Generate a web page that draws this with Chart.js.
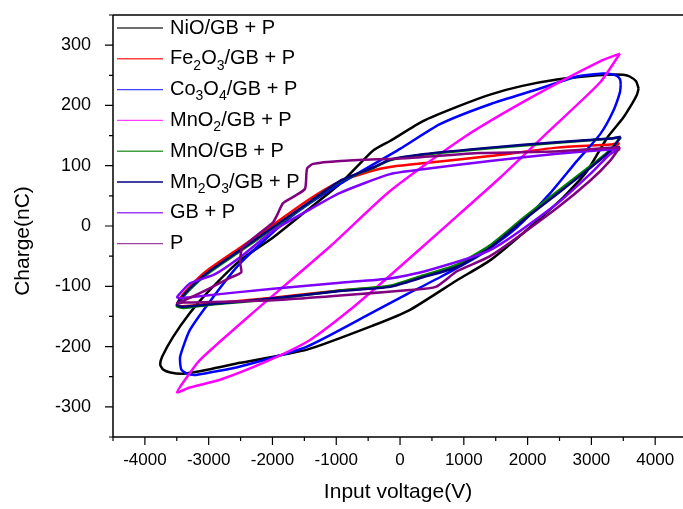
<!DOCTYPE html>
<html>
<head>
<meta charset="utf-8">
<script src="https://cdn.jsdelivr.net/npm/chart.js@4.4.1/dist/chart.umd.min.js"></script>
<style>
  html, body { margin: 0; padding: 0; background: #fff; }
  #wrap { width: 683px; height: 509px; }
</style>
</head>
<body>
<div id="wrap"><canvas id="loops" width="683" height="509"></canvas></div>
<script>
// ========================== DATA ==========================
const seriesNames = ["NiO/GB + P", "Fe2O3/GB + P", "Co3O4/GB + P", "MnO2/GB + P", "MnO/GB + P", "Mn2O3/GB + P", "GB + P", "P"];
const seriesColors = ["#000000", "#ff0000", "#0000ff", "#ff00ff", "#008000", "#000080", "#8000ff", "#800080"];

// tick positions (majors get a label)
const xTickValues = [-4500, -4000, -3500, -3000, -2500, -2000, -1500, -1000, -500, 0, 500, 1000, 1500, 2000, 2500, 3000, 3500, 4000];
const xTicksMajor = [-4000, -3000, -2000, -1000, 0, 1000, 2000, 3000, 4000];
const yTickValues = [-350, -300, -250, -200, -150, -100, -50, 0, 50, 100, 150, 200, 250, 300, 350];
const yTicksMajor = [-300, -200, -100, 0, 100, 200, 300];

// NiO/GB + P
const nioV = [3740, 3700, 3600, 3495, 3100, 2461, 1900, 1411, 900, 360, -157, -423, -940, -1458, -1990, -2508, -3025, -3292, -3558, -3730, -3760, -3715, -3600, -3401, -3000, -2508, -1458, -423, 157, 893, 1411, 1928, 2555, 2931, 3245, 3495, 3650, 3715, 3740];
const nioQ = [228, 240, 248, 251, 250, 243, 232, 218, 198, 174, 141, 125, 70, 26, -19, -57, -111, -144, -184, -217, -230, -238, -243, -245, -238, -227, -205, -165, -139, -90, -57, -12, 47, 91, 146, 179, 205, 218, 228];

// Fe2O3/GB + P
const feV = [3440, 3300, 2461, 1411, 360, -157, -423, -940, -1458, -1990, -2508, -3025, -3292, -3450, -3495, -3400, -3000, -1990, -940, -157, 360, 893, 1411, 1928, 2461, 2978, 3291, 3440];
const feQ = [138, 135, 130, 116, 104, 98, 92, 74, 42, 2, -36, -74, -100, -120, -131, -133, -129, -119, -107, -100, -84, -66, -34, 11, 55, 97, 123, 138];

// Co3O4/GB + P
const coV = [3460, 3450, 3400, 3300, 3182, 2774, 2194, 1411, 627, 0, -940, -1724, -2508, -2931, -3292, -3448, -3430, -3340, -3200, -2508, -1458, -423, -157, 110, 627, 1301, 1834, 2351, 2774, 3135, 3339, 3448, 3460];
const coQ = [235, 243, 249, 252, 253, 248, 228, 202, 169, 128, 70, 14, -62, -118, -172, -217, -238, -245, -247, -233, -200, -143, -128, -113, -85, -45, -2, 54, 108, 152, 190, 222, 235];

// MnO2/GB + P
const mno2V = [3448, 3135, 2038, 987, -157, -1097, -2351, -3135, -3370, -3495, -3300, -2821, -2038, -1411, -784, -157, 784, 1567, 2351, 3135, 3448];
const mno2Q = [286, 273, 212, 146, 58, -34, -148, -222, -255, -276, -268, -255, -222, -189, -139, -82, 6, 80, 159, 238, 286];

// MnO/GB + P
const mnoV = [3460, 3300, 2461, 1411, 360, -157, -423, -940, -1458, -1990, -2508, -3025, -3292, -3450, -3500, -3400, -3000, -1990, -940, -157, 360, 893, 1411, 1928, 2461, 2978, 3291, 3460];
const mnoQ = [147, 145, 138, 129, 118, 109, 96, 74, 36, -4, -42, -80, -105, -124, -133, -136, -131, -121, -107, -99, -82, -64, -32, 13, 57, 99, 126, 147];

// Mn2O3/GB + P
const mn2V = [3460, 3300, 2461, 1411, 360, -157, -423, -940, -1458, -1990, -2508, -3025, -3292, -3450, -3500, -3400, -3000, -1990, -940, -157, 360, 893, 1411, 1928, 2461, 2978, 3291, 3460];
const mn2Q = [148, 145, 139, 130, 119, 110, 97, 75, 37, -2, -40, -78, -103, -122, -131, -134, -130, -120, -108, -101, -85, -68, -36, 9, 53, 96, 124, 148];

// GB + P
const gbV = [3450, 3291, 2461, 1411, 360, -157, -940, -1458, -1990, -2508, -2900, -3292, -3450, -3495, -3450, -3292, -1990, -940, -157, 360, 1411, 2461, 2978, 3291, 3450];
const gbQ = [128, 127, 120, 108, 94, 86, 55, 25, -8, -52, -80, -95, -112, -118, -120, -118, -104, -94, -87, -76, -40, 37, 86, 119, 128];

// P
const pV = [3448, 2508, 1254, 157, -940, -1364, -1458, -1489, -1646, -1834, -1928, -1991, -2194, -2398, -2476, -2508, -2490, -2665, -2978, -3292, -3495, -3400, -1991, 157, 560, 893, 1411, 2461, 2978, 3291, 3448];
const pQ = [131, 124, 121, 113, 108, 103, 95, 62, 50, 38, 18, 6, -11, -29, -37, -60, -77, -86, -103, -119, -128, -127, -123, -106, -101, -75, -50, 30, 75, 108, 131];

const seriesV = [nioV, feV, coV, mno2V, mnoV, mn2V, gbV, pV];
const seriesQ = [nioQ, feQ, coQ, mno2Q, mnoQ, mn2Q, gbQ, pQ];

// ========================== HELPERS ==========================
function toPoints(vs, qs){
  return vs.map((v, i) => ({ x: v, y: qs[i] }));
}

// draws "Fe2O3/GB + P" with the digits as subscripts
function drawRich(ctx, label, x, y){
  const parts = label.split(/(\d+)/);
  parts.forEach(p => {
    if(!p) return;
    const sub = /^\d+$/.test(p);
    ctx.font = sub ? "14px 'Liberation Sans', Arial, sans-serif" : "20px 'Liberation Sans', Arial, sans-serif";
    ctx.fillText(p, x, sub ? y + 7 : y);
    x += ctx.measureText(p).width;
  });
}

// ========================== FRAME / LEGEND PLUGIN ==========================
const framePlugin = {
  id: "frame",
  afterDatasetsDraw(chart){
    const ctx = chart.ctx;
    const a = chart.chartArea;
    const xs = chart.scales.x;
    const ys = chart.scales.y;
    ctx.save();
    ctx.strokeStyle = "#000";
    ctx.lineWidth = 1.5;
    ctx.beginPath();
    ctx.moveTo(a.left, a.top); ctx.lineTo(a.right, a.top);
    ctx.moveTo(a.left, a.top); ctx.lineTo(a.left, a.bottom);
    ctx.moveTo(a.left, a.bottom); ctx.lineTo(a.right, a.bottom);
    ctx.stroke();

    // ticks, outward, long on majors
    ctx.lineWidth = 1.2;
    ctx.beginPath();
    xTickValues.forEach(v => {
      const px = xs.getPixelForValue(v);
      const len = xTicksMajor.includes(v) ? 8 : 4;
      ctx.moveTo(px, a.bottom); ctx.lineTo(px, a.bottom + len);
    });
    yTickValues.forEach(v => {
      const py = ys.getPixelForValue(v);
      const len = yTicksMajor.includes(v) ? 8 : 4;
      ctx.moveTo(a.left, py); ctx.lineTo(a.left - len, py);
    });
    ctx.stroke();

    // y title
    ctx.fillStyle = "#000";
    ctx.font = "21px 'Liberation Sans', Arial, sans-serif";
    ctx.textAlign = "center";
    ctx.textBaseline = "middle";
    ctx.translate(23, 241);
    ctx.rotate(-Math.PI / 2);
    ctx.fillText("Charge(nC)", 0, 0);
    ctx.restore();

    // legend
    ctx.save();
    ctx.textAlign = "left";
    ctx.textBaseline = "middle";
    ctx.fillStyle = "#000";
    seriesNames.forEach((name, i) => {
      const y = 28 + i * 30.8;
      ctx.strokeStyle = seriesColors[i];
      ctx.globalAlpha = 0.75;
      ctx.lineWidth = i === 5 ? 2 : 1.4;
      ctx.beginPath();
      ctx.moveTo(117, y); ctx.lineTo(163, y);
      ctx.stroke();
      ctx.globalAlpha = 1;
      drawRich(ctx, name, 170, y);
    });
    ctx.restore();
  }
};

// ========================== CHART ==========================
const datasets = seriesNames.map((name, i) => ({
  label: name,
  data: toPoints(seriesV[i], seriesQ[i]),
  borderColor: seriesColors[i],
  backgroundColor: seriesColors[i],
  borderWidth: 2.5,
  pointRadius: 0,
  showLine: true,
  tension: 0.2,
  order: seriesNames.length - i
}));

const ctx = document.getElementById("loops").getContext("2d");
new Chart(ctx, {
  type: "scatter",
  data: { datasets },
  options: {
    responsive: false,
    animation: false,
    layout: { padding: { top: 15, right: 0, left: 0, bottom: 0 } },
    plugins: { legend: { display: false }, tooltip: { enabled: false } },
    scales: {
      x: {
        type: "linear",
        min: -4500,
        max: 4436,
        afterBuildTicks: s => { s.ticks = xTickValues.map(v => ({ value: v })); },
        afterFit: s => { s.height = 72; s.paddingLeft = 0; s.paddingRight = 0; },
        grid: { display: false },
        border: { display: false },
        ticks: {
          autoSkip: false,
          maxRotation: 0,
          padding: 5,
          color: "#000",
          font: { family: "'Liberation Sans', Arial, sans-serif", size: 17 },
          callback: v => (xTicksMajor.includes(v) ? String(v) : "")
        },
        title: {
          display: true,
          text: "Input voltage(V)",
          color: "#000",
          font: { family: "'Liberation Sans', Arial, sans-serif", size: 21 },
          padding: { top: 0, bottom: 4 }
        }
      },
      y: {
        type: "linear",
        min: -350,
        max: 350,
        afterBuildTicks: s => { s.ticks = yTickValues.map(v => ({ value: v })); },
        afterFit: s => { s.width = 113; s.paddingTop = 0; s.paddingBottom = 0; },
        grid: { display: false },
        border: { display: false },
        ticks: {
          autoSkip: false,
          padding: 14,
          color: "#000",
          font: { family: "'Liberation Sans', Arial, sans-serif", size: 18 },
          callback: v => (yTicksMajor.includes(v) ? String(v) : "")
        }
      }
    }
  },
  plugins: [framePlugin]
});
</script>
</body>
</html>
